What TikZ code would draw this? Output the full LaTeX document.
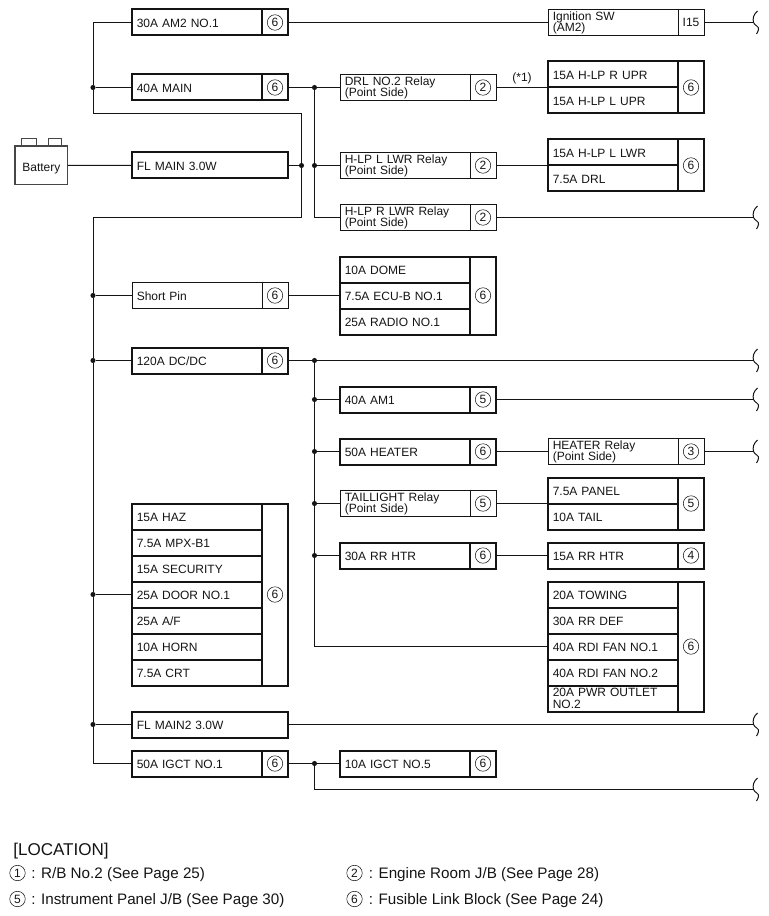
\documentclass[tikz,border=0pt]{standalone}
\usepackage{fontspec}
\setmainfont{Liberation Sans}
\usepackage{xcolor}
\usetikzlibrary{positioning, calc}
\definecolor{ink}{RGB}{20,20,20}
\definecolor{batt}{RGB}{70,70,70}

\begin{document}
\begin{tikzpicture}[
    x=0.75pt, y=-0.75pt,
    fuse/.style={draw=ink, line width=1.5pt, outer sep=0pt, anchor=north west, text=ink,
                 font=\fontsize{9}{8.4}\selectfont, align=left, inner xsep=3.6pt, inner ysep=0pt,
                 text width=90.3pt, minimum height=19.5pt, text height=7.8pt, text depth=0pt},
    wide/.style={fuse, text width=109.8pt},
    relay/.style={fuse, line width=0.75pt},
    twoline/.style={text height={}, text depth={}},
    sidebox/.style={draw=ink, line width=1.5pt, outer sep=0pt, anchor=north west, text=ink,
                 font=\fontsize{9}{9}\selectfont, inner sep=0pt, minimum width=19.5pt, minimum height=19.5pt},
    badge/.style={circle, draw=ink, line width=0.4pt, inner sep=0pt, minimum size=11.6pt, text=ink,
                 font=\fontsize{9}{9}\selectfont},
    loc/.style={sidebox, label={[badge]center:#1}},
    thinb/.style={line width=0.75pt},
    jn/.style={circle, fill=ink, inner sep=0pt, minimum size=3.8pt, outer sep=0pt},
    wr/.style={draw=ink, line width=0.75pt},
    legend/.style={anchor=west, text=ink, inner sep=0pt, font=\fontsize{11.4}{12}\selectfont},
    wirebreak/.pic={\draw[wr] (4,-11.5) .. controls (0,-8) and (-1,-4) .. (0,0) .. controls (1,3) and (6,4) .. (5,7) .. controls (5,9) and (3.5,10) .. (3,11.5);}
  ]
  \useasboundingbox (0,0) rectangle (768,916);

  % ---------------- battery ----------------
  \node[draw=batt, line width=0.75pt, outer sep=0pt, inner sep=0pt, minimum width=11.25pt, minimum height=5.5pt, anchor=north west] (t1) at (21,139) {};
  \node[draw=batt, line width=0.75pt, outer sep=0pt, inner sep=0pt, minimum width=10pt, minimum height=5.5pt, anchor=north west] (t2) at (48,139) {};
  \node[draw=batt, fill=white, line width=0.9pt, outer sep=0pt, inner sep=0pt, minimum width=39.5pt, minimum height=29pt, anchor=north west, text=ink, font=\fontsize{9}{9}\selectfont, text height=9pt, text depth=0pt] (bat) at (15,146) {Battery};

  % ---------------- first column ----------------
  \node[fuse] (am2) at (132,9.5) {30A AM2 NO.1};
  \node[loc=6] (am2l) at (262,9.5) {};
  \node[fuse] (main) at (132,74.5) {40A MAIN};
  \node[loc=6] (mainl) at (262,74.5) {};
  \node[wide] (flm) at (132,152.5) {FL MAIN 3.0W};
  \node[relay] (pin) at (132,282.5) {Short Pin};
  \node[loc=6, thinb] (pinl) at (262,282.5) {};
  \node[fuse] (dcdc) at (132,347.5) {120A DC/DC};
  \node[loc=6] (dcdcl) at (262,347.5) {};
  \node[fuse] (a1) at (132,503.5) {15A HAZ};
  \node[fuse, below=0pt of a1] (a2) {7.5A MPX-B1};
  \node[fuse, below=0pt of a2] (a3) {15A SECURITY};
  \node[fuse, below=0pt of a3] (a4) {25A DOOR NO.1};
  \node[fuse, below=0pt of a4] (a5) {25A A/F};
  \node[fuse, below=0pt of a5] (a6) {10A HORN};
  \node[fuse, below=0pt of a6] (a7) {7.5A CRT};
  \node[loc=6, minimum height=136.5pt] (al) at (262,503.5) {};
  \node[wide] (flm2) at (132,711.5) {FL MAIN2 3.0W};
  \node[fuse] (igct) at (132,750.5) {50A IGCT NO.1};
  \node[loc=6] (igctl) at (262,750.5) {};

  % ---------------- second column ----------------
  \node[relay, twoline] (drl) at (340,74.5) {DRL NO.2 Relay\\(Point Side)};
  \node[loc=2, thinb] (drll) at (470,74.5) {};
  \node[relay, twoline] (lwrl) at (340,152.5) {H-LP L LWR Relay\\(Point Side)};
  \node[loc=2, thinb] (lwrll) at (470,152.5) {};
  \node[relay, twoline] (lwrr) at (340,204.5) {H-LP R LWR Relay\\(Point Side)};
  \node[loc=2, thinb] (lwrrl) at (470,204.5) {};
  \node[fuse] (b1) at (340,256.5) {10A DOME};
  \node[fuse, below=0pt of b1] (b2) {7.5A ECU-B NO.1};
  \node[fuse, below=0pt of b2] (b3) {25A RADIO NO.1};
  \node[loc=6, minimum height=58.5pt] (bl) at (470,256.5) {};
  \node[fuse] (am1) at (340,386.5) {40A AM1};
  \node[loc=5] (am1l) at (470,386.5) {};
  \node[fuse] (heat) at (340,438.5) {50A HEATER};
  \node[loc=6] (heatl) at (470,438.5) {};
  \node[relay, twoline] (tail) at (340,490.5) {TAILLIGHT Relay\\(Point Side)};
  \node[loc=5, thinb] (taill) at (470,490.5) {};
  \node[fuse] (rrh) at (340,542.5) {30A RR HTR};
  \node[loc=6] (rrhl) at (470,542.5) {};
  \node[fuse] (ig5) at (340,750.5) {10A IGCT NO.5};
  \node[loc=6] (ig5l) at (470,750.5) {};

  % ---------------- third column ----------------
  \node[relay, twoline] (ign) at (548,9.5) {Ignition SW\\(AM2)};
  \node[sidebox, thinb] (ignl) at (678,9.5) {I15};
  \node[fuse] (c1) at (548,61.5) {15A H-LP R UPR};
  \node[fuse, below=0pt of c1] (c2) {15A H-LP L UPR};
  \node[loc=6, minimum height=39pt] (cl) at (678,61.5) {};
  \node[fuse] (d1) at (548,139.5) {15A H-LP L LWR};
  \node[fuse, below=0pt of d1] (d2) {7.5A DRL};
  \node[loc=6, minimum height=39pt] (dl) at (678,139.5) {};
  \node[relay, twoline] (hrel) at (548,438.5) {HEATER Relay\\(Point Side)};
  \node[loc=3, thinb] (hrell) at (678,438.5) {};
  \node[fuse] (e1) at (548,477.5) {7.5A PANEL};
  \node[fuse, below=0pt of e1] (e2) {10A TAIL};
  \node[loc=5, minimum height=39pt] (el) at (678,477.5) {};
  \node[fuse] (rrr) at (548,542.5) {15A RR HTR};
  \node[loc=4] (rrrl) at (678,542.5) {};
  \node[fuse] (f1) at (548,581.5) {20A TOWING};
  \node[fuse, below=0pt of f1] (f2) {30A RR DEF};
  \node[fuse, below=0pt of f2] (f3) {40A RDI FAN NO.1};
  \node[fuse, below=0pt of f3] (f4) {40A RDI FAN NO.2};
  \node[fuse, twoline, font=\fontsize{9}{9}\selectfont, below=0pt of f4] (f5) {20A PWR OUTLET\\NO.2};
  \node[loc=6, minimum height=97.5pt] (fl) at (678,581.5) {};

  % ---------------- junctions ----------------
  \node[jn] (j1) at (93,87.5) {};
  \node[jn] (j2) at (301.5,165.5) {};
  \node[jn] (j3) at (93,295.5) {};
  \node[jn] (j4) at (93,360.5) {};
  \node[jn] (j5) at (93,594.5) {};
  \node[jn] (j6) at (93,724.5) {};
  \node[jn] (k1) at (314.5,87.5) {};
  \node[jn] (k2) at (314.5,165.5) {};
  \node[jn] (k3) at (314.5,360.5) {};
  \node[jn] (k4) at (314.5,399.5) {};
  \node[jn] (k5) at (314.5,451.5) {};
  \node[jn] (k6) at (314.5,503.5) {};
  \node[jn] (k7) at (314.5,555.5) {};
  \node[jn] (k8) at (314.5,763.5) {};
  \coordinate (p1) at (93,113.5);
  \coordinate (p2) at (301.5,113.5);
  \coordinate (p3) at (301.5,217.5);
  \coordinate (p4) at (93,217.5);
  \coordinate (p5) at (314.5,789.5);

  % ---------------- wire ends ----------------
  \coordinate (w1) at (753.5,22.5);
  \coordinate (w2) at (753.5,217.5);
  \coordinate (w3) at (753.5,360.5);
  \coordinate (w4) at (753.5,399.5);
  \coordinate (w5) at (753.5,451.5);
  \coordinate (w6) at (753.5,724.5);
  \coordinate (w7) at (753.5,789.5);
  \pic at (w1) {wirebreak};
  \pic at (w2) {wirebreak};
  \pic at (w3) {wirebreak};
  \pic at (w4) {wirebreak};
  \pic at (w5) {wirebreak};
  \pic at (w6) {wirebreak};
  \pic at (w7) {wirebreak};

  % ---------------- wires ----------------
  \draw[wr] (bat) -- (flm);
  \draw[wr] (flm) -- (j2);
  \draw[wr] (am2.west) -| (j1);
  \draw[wr] (j1) -- (main);
  \draw[wr] (j1) -- (p1) -- (p2) -- (j2) -- (p3) -- (p4) -- (j3) -- (j4) -- (j5) -- (j6) |- (igct.west);
  \draw[wr] (j3) -- (pin);
  \draw[wr] (j4) -- (dcdc);
  \draw[wr] (j5) -- (a4.west);
  \draw[wr] (j6) -- (flm2);
  \draw[wr] (am2l) -- (ign);
  \draw[wr] (ignl) -- (w1);
  \draw[wr] (mainl) -- (k1);
  \draw[wr] (k1) -- (drl);
  \draw[wr] (k1) -- (k2);
  \draw[wr] (k2) -- (lwrl);
  \draw[wr] (k2) |- (lwrr.west);
  \draw[wr] (drll) -- (c1.south west) node[midway, above=2.5pt, text=ink, inner sep=0pt, font=\fontsize{9}{9}\selectfont] (star) {(*1)};
  \draw[wr] (lwrll) -- (d1.south west);
  \draw[wr] (lwrrl) -- (w2);
  \draw[wr] (pinl) -- (b2);
  \draw[wr] (dcdcl) -- (k3);
  \draw[wr] (k3) -- (w3);
  \draw[wr] (k3) -- (k4);
  \draw[wr] (k4) -- (k5);
  \draw[wr] (k5) -- (k6);
  \draw[wr] (k6) -- (k7);
  \draw[wr] (k7) |- (f3.west);
  \draw[wr] (k4) -- (am1);
  \draw[wr] (am1l) -- (w4);
  \draw[wr] (k5) -- (heat);
  \draw[wr] (heatl) -- (hrel);
  \draw[wr] (hrell) -- (w5);
  \draw[wr] (k6) -- (tail);
  \draw[wr] (taill) -- (e1.south west);
  \draw[wr] (k7) -- (rrh);
  \draw[wr] (rrhl) -- (rrr);
  \draw[wr] (flm2) -- (w6);
  \draw[wr] (igctl) -- (k8);
  \draw[wr] (k8) -- (ig5);
  \draw[wr] (k8) -- (p5) -- (w7);

  % ---------------- location list ----------------
  \node[legend, font=\fontsize{12.8}{13}\selectfont] (lt) at (13,851.5) {[LOCATION]};
  \node[badge] (n1) at (17.5,873) {1};
  \node[legend] (l1) at (31,874.5) {: R/B No.2 (See Page 25)};
  \node[badge] (n2) at (354.5,873) {2};
  \node[legend] (l2) at (368.5,874.5) {: Engine Room J/B (See Page 28)};
  \node[badge] (n5) at (17.5,899) {5};
  \node[legend] (l5) at (31,900.5) {: Instrument Panel J/B (See Page 30)};
  \node[badge] (n6) at (354.5,899) {6};
  \node[legend] (l6) at (368.5,900.5) {: Fusible Link Block (See Page 24)};
\end{tikzpicture}
\end{document}
